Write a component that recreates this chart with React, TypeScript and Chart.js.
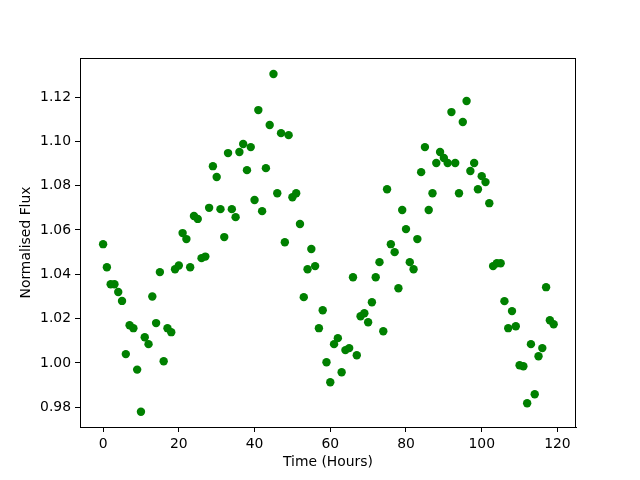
import React, { useEffect, useRef } from "react";
import { Chart, registerables } from "chart.js";

Chart.register(...registerables);

const hours: number[] = Array.from({ length: 120 }, (_, i) => i);
const flux: number[] = [
  1.0536, 1.0432, 1.0355, 1.0355, 1.032, 1.028, 1.004, 1.017, 1.0157, 0.997,
  0.978, 1.0116, 1.0085, 1.03, 1.018, 1.041, 1.0008, 1.0157, 1.0139, 1.0423,
  1.044, 1.0586, 1.0559, 1.0432, 1.0663, 1.065, 1.0473, 1.048, 1.07, 1.0888,
  1.0839, 1.0694, 1.0568, 1.0947, 1.0694, 1.0658, 1.0952, 1.0988, 1.087, 1.0974,
  1.0735, 1.1141, 1.0685, 1.0879, 1.1074, 1.1304, 1.0766, 1.1037, 1.0545, 1.1028,
  1.0748, 1.0766, 1.0627, 1.0297, 1.0423, 1.0514, 1.0437, 1.0157, 1.0238, 1.0003,
  0.9913, 1.0085, 1.0112, 0.9958, 1.0058, 1.0067, 1.0387, 1.0035, 1.0211, 1.0224,
  1.0184, 1.0274, 1.0387, 1.0455, 1.0143, 1.0784, 1.0536, 1.05, 1.0337, 1.069,
  1.0604, 1.0455, 1.0423, 1.0559, 1.0861, 1.0974, 1.069, 1.0766, 1.0902, 1.0952,
  1.0925, 1.0902, 1.1132, 1.0902, 1.0766, 1.1087, 1.1182, 1.0866, 1.0902, 1.0784,
  1.0843, 1.0816, 1.0721, 1.0437, 1.045, 1.045, 1.0279, 1.0157, 1.0234, 1.0166,
  0.999, 0.9985, 0.9818, 1.0085, 0.9859, 1.003, 1.0067, 1.0342, 1.0193, 1.0175,
];
const xTicks: number[] = [0, 20, 40, 60, 80, 100, 120];
const yTicks: number[] = [0.98, 1.0, 1.02, 1.04, 1.06, 1.08, 1.1, 1.12];
const xLabel = "Time (Hours)";
const yLabel = "Normalised Flux";

const FONT = "'DejaVu Sans', sans-serif";

export default function App() {
  const ref = useRef<HTMLCanvasElement | null>(null);
  useEffect(() => {
    if (!ref.current) return;
    const frame = {
      id: "frame",
      afterDraw(chart: any) {
        const { ctx, chartArea: a } = chart;
        ctx.save();
        ctx.strokeStyle = "#000";
        ctx.lineWidth = 1;
        ctx.strokeRect(Math.round(a.left) + 0.5, Math.round(a.top) + 0.5, Math.round(a.right - a.left) - 1, Math.round(a.bottom - a.top));
        ctx.restore();
      },
    };
    const chart = new Chart(ref.current, {
      type: "scatter",
      data: {
        datasets: [
          {
            data: hours.map((h, i) => ({ x: h, y: flux[i] })),
            backgroundColor: "#008000",
            borderColor: "#008000",
            pointRadius: 4.2,
            pointHoverRadius: 4.2,
            borderWidth: 0,
          },
        ],
      },
      options: {
        animation: false,
        responsive: false,
        events: [],
        layout: { padding: { top: 58, right: 64, left: 0, bottom: 0 } },
        plugins: { legend: { display: false }, tooltip: { enabled: false } },
        scales: {
          x: {
            type: "linear",
            min: -6.1,
            max: 124.9,
            afterFit: (s: any) => { s.height = 53; },
            afterBuildTicks: (s: any) => { s.ticks = xTicks.map((v) => ({ value: v })); },
            grid: { display: true, drawOnChartArea: false, drawTicks: true, tickLength: 5, color: "#000" },
            border: { display: true, color: "#000" },
            ticks: { color: "#000", padding: 4, font: { family: FONT, size: 13.9 }, callback: (v: any) => String(v) },
            title: { display: true, text: xLabel, color: "#000", font: { family: FONT, size: 13.9 }, padding: { top: 0, bottom: 9 } },
          },
          y: {
            type: "linear",
            min: 0.97111,
            max: 1.1376,
            afterFit: (s: any) => { s.width = 80; },
            afterBuildTicks: (s: any) => { s.ticks = yTicks.map((v) => ({ value: v })); },
            grid: { display: true, drawOnChartArea: false, drawTicks: true, tickLength: 5, color: "#000" },
            border: { display: true, color: "#000" },
            ticks: { color: "#000", padding: 4, font: { family: FONT, size: 13.9 }, callback: (v: any) => Number(v).toFixed(2) },
            title: { display: true, text: yLabel, color: "#000", font: { family: FONT, size: 13.9 }, padding: { top: 18, bottom: 18 } },
          },
        },
      },
      plugins: [frame],
    } as any);
    return () => chart.destroy();
  }, []);
  return (
    <div style={{ position: "fixed", left: 0, top: 0, width: 640, height: 480, background: "#fff" }}>
      <canvas ref={ref} width={640} height={480} style={{ width: 640, height: 480, display: "block" }} />
    </div>
  );
}
